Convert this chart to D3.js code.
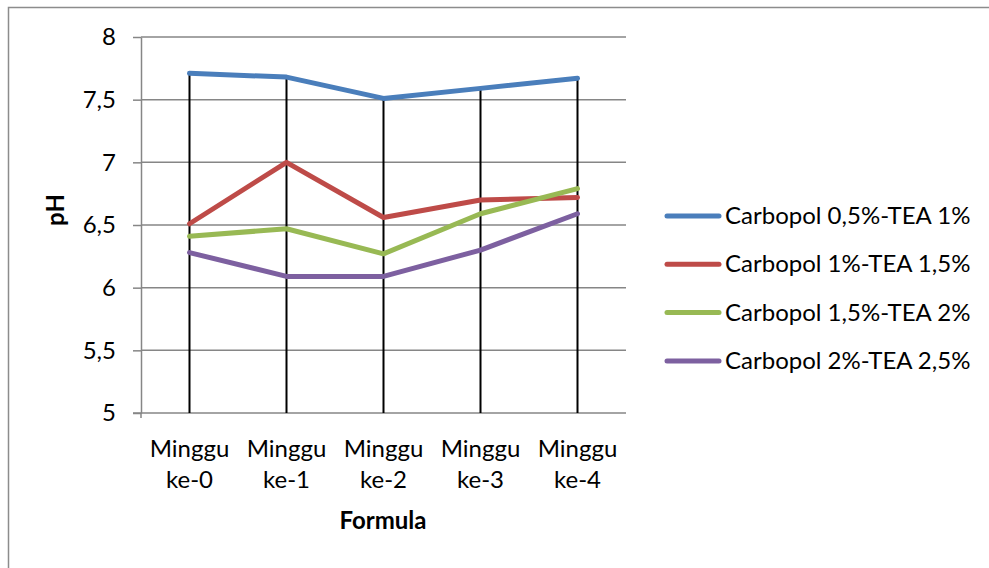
<!DOCTYPE html>
<html>
<head>
<meta charset="utf-8">
<script src="https://cdn.jsdelivr.net/npm/d3@7"></script>
<style>
  body { margin: 0; background: #fff; }
  svg text { font-family: Lato, "Open Sans", sans-serif; fill: #000; }
</style>
</head>
<body>
<svg id="chart" width="989" height="568"></svg>
<script>
// data
var categories = ["Minggu ke-0", "Minggu ke-1", "Minggu ke-2", "Minggu ke-3", "Minggu ke-4"];
var seriesNames = ["Carbopol 0,5%-TEA 1%", "Carbopol 1%-TEA 1,5%", "Carbopol 1,5%-TEA 2%", "Carbopol 2%-TEA 2,5%"];
var carbopol05 = [7.71, 7.68, 7.51, 7.59, 7.67];
var carbopol1 = [6.51, 7.00, 6.56, 6.70, 6.72];
var carbopol15 = [6.41, 6.47, 6.27, 6.59, 6.79];
var carbopol2 = [6.28, 6.09, 6.09, 6.30, 6.59];
var yTicks = [5, 5.5, 6, 6.5, 7, 7.5, 8];
var colors = ["#4a7ebb", "#be4b48", "#98b954", "#7d60a0"];

var allSeries = [carbopol05, carbopol1, carbopol15, carbopol2];

var svg = d3.select("#chart");
var plotLeft = 141, plotRight = 626, plotTop = 37, plotBottom = 413;
var fontSize = "24px";

// chart border
svg.append("rect")
    .attr("x", 8.5).attr("y", 7.5)
    .attr("width", 1000).attr("height", 600)
    .attr("fill", "none")
    .attr("stroke", "#8c8c8c")
    .attr("stroke-width", 1.5);

var x = d3.scaleBand().domain(categories).range([plotLeft, plotRight]);
var y = d3.scaleLinear().domain([5, 8]).range([plotBottom, plotTop]);

function fmt(v) { return String(v).replace(".", ","); }

// gridlines
svg.append("g").selectAll("line")
    .data(yTicks.slice(1))
    .enter().append("line")
    .attr("x1", plotLeft).attr("x2", plotRight)
    .attr("y1", function(d) { return y(d); })
    .attr("y2", function(d) { return y(d); })
    .attr("stroke", "#868686")
    .attr("stroke-width", 1.5);

// y axis
var yAxis = svg.append("g")
    .attr("transform", "translate(" + plotLeft + ",0)")
    .call(d3.axisLeft(y).tickValues(yTicks).tickSize(8).tickSizeOuter(0).tickPadding(17).tickFormat(fmt));
yAxis.select(".domain").attr("stroke", "#868686").attr("stroke-width", 1.5);
yAxis.selectAll(".tick line").attr("stroke", "#868686").attr("stroke-width", 1.5);
yAxis.selectAll("text").style("font-size", fontSize).style("font-family", "Lato, sans-serif").attr("fill", "#000");

// x axis line
svg.append("line")
    .attr("x1", plotLeft - 8).attr("x2", plotRight)
    .attr("y1", plotBottom).attr("y2", plotBottom)
    .attr("stroke", "#868686").attr("stroke-width", 1.5);
svg.append("line")
    .attr("x1", plotLeft).attr("x2", plotLeft)
    .attr("y1", plotBottom).attr("y2", plotBottom + 5)
    .attr("stroke", "#868686").attr("stroke-width", 1.5);

// x labels (two lines)
var xl = svg.append("g").selectAll("text")
    .data(categories)
    .enter().append("text")
    .attr("text-anchor", "middle")
    .style("font-size", fontSize);
xl.each(function(d) {
    var parts = d.split(" ");
    var t = d3.select(this);
    var cx = x(d) + x.bandwidth() / 2;
    t.append("tspan").attr("x", cx).attr("y", 457).text(parts[0]);
    t.append("tspan").attr("x", cx).attr("y", 488).text(parts[1]);
});

// drop lines from highest point down to axis
svg.append("g").selectAll("line")
    .data(categories)
    .enter().append("line")
    .attr("x1", function(d) { return x(d) + x.bandwidth() / 2; })
    .attr("x2", function(d) { return x(d) + x.bandwidth() / 2; })
    .attr("y1", function(d, i) { return y(d3.max(allSeries, function(s) { return s[i]; })); })
    .attr("y2", plotBottom)
    .attr("stroke", "#000")
    .attr("stroke-width", 2);

// series lines
var line = d3.line()
    .x(function(d, i) { return x(categories[i]) + x.bandwidth() / 2; })
    .y(function(d) { return y(d); });

svg.append("g").selectAll("path")
    .data(allSeries)
    .enter().append("path")
    .attr("d", line)
    .attr("fill", "none")
    .attr("stroke", function(d, i) { return colors[i]; })
    .attr("stroke-width", 5)
    .attr("stroke-linejoin", "round")
    .attr("stroke-linecap", "round");

// axis titles
svg.append("text")
    .attr("transform", "translate(64,210) rotate(-90)")
    .attr("text-anchor", "middle")
    .style("font-size", fontSize)
    .style("font-weight", "bold")
    .text("pH");

svg.append("text")
    .attr("x", 383).attr("y", 529)
    .attr("text-anchor", "middle")
    .style("font-size", fontSize)
    .style("font-weight", "bold")
    .text("Formula");

// legend
var legend = svg.append("g").selectAll("g")
    .data(seriesNames)
    .enter().append("g")
    .attr("transform", function(d, i) { return "translate(0," + (216 + i * 48.3) + ")"; });
legend.append("line")
    .attr("x1", 667).attr("x2", 719)
    .attr("y1", 0).attr("y2", 0)
    .attr("stroke", function(d, i) { return colors[i]; })
    .attr("stroke-width", 5)
    .attr("stroke-linecap", "round");
legend.append("text")
    .attr("x", 725).attr("y", 8)
    .style("font-size", fontSize)
    .text(function(d) { return d; });
</script>
</body>
</html>
